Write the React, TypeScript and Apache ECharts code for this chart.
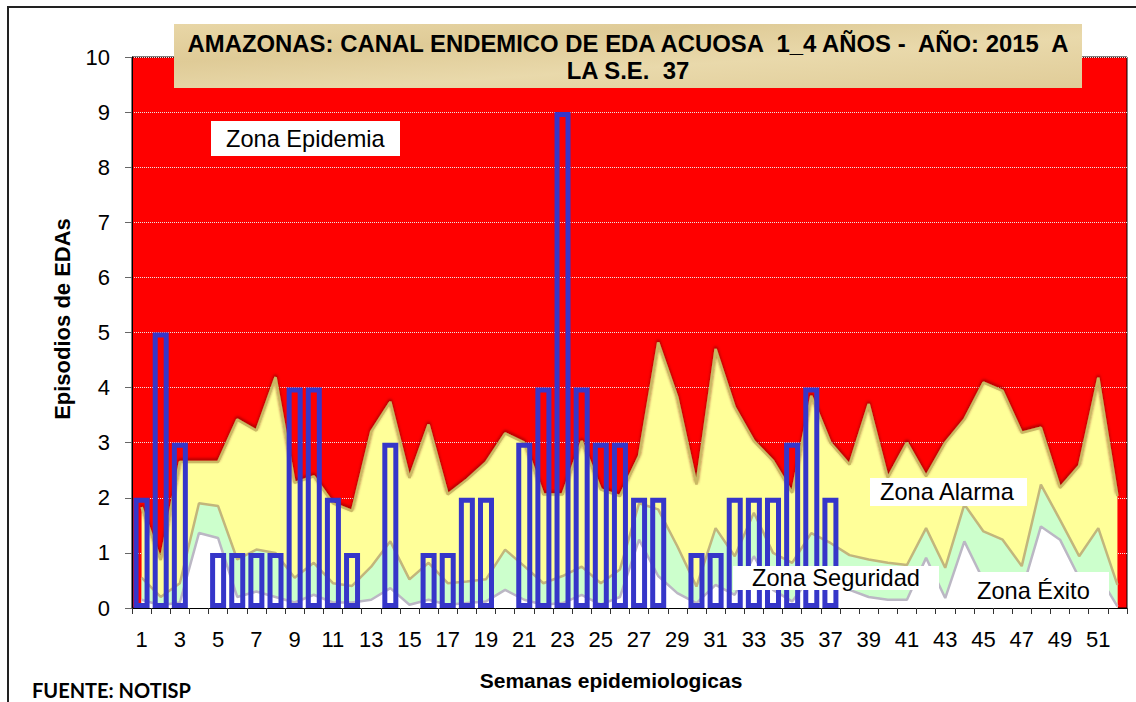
import React, { useEffect, useRef } from 'react';
import * as echarts from 'echarts';

const weeks = ['1','2','3','4','5','6','7','8','9','10','11','12','13','14','15','16','17','18','19','20','21','22','23','24','25','26','27','28','29','30','31','32','33','34','35','36','37','38','39','40','41','42','43','44','45','46','47','48','49','50','51','52'];

// upper limit of the alarm zone (above it: epidemic zone)
const alarmaTop = [1.83,0.87,2.65,2.65,2.65,3.42,3.22,4.19,2.27,2.39,1.9,1.76,3.2,3.74,2.36,3.33,2.06,2.33,2.64,3.17,3.0,2.06,2.06,3.03,2.15,2.03,2.76,4.82,3.82,2.24,4.7,3.64,3.03,2.67,2.09,3.85,3.0,2.6,3.7,2.36,3.0,2.39,3.0,3.42,4.09,3.94,3.18,3.27,2.18,2.58,4.18,2.03];
// upper limit of the security zone
const seguridadTop = [0.55,0.2,0.45,1.9,1.85,0.88,1.06,1.0,0.55,0.82,0.45,0.4,0.75,1.21,0.52,0.82,0.45,0.48,0.52,1.06,0.76,0.45,0.58,0.75,0.45,0.7,1.9,1.79,1.12,0.39,1.45,0.94,1.73,1.0,0.82,1.36,1.18,0.96,0.88,0.82,0.78,1.45,0.73,1.88,1.39,1.24,0.76,2.24,1.6,0.94,1.45,0.42];
// upper limit of the success zone
const exitoTop = [0.15,0.05,0.1,1.36,1.27,0.2,0.3,0.2,0.1,0.24,0.1,0.1,0.15,0.36,0.06,0.15,0.06,0.09,0.12,0.33,0.15,0.06,0.09,0.24,0.06,0.2,1.24,0.58,0.27,0.09,0.42,0.24,0.94,0.33,0.12,0.58,0.45,0.33,0.2,0.15,0.15,0.91,0.18,1.21,0.5,0.4,0.3,1.48,1.24,0.55,0.6,0.03];
// episodes 2015 up to S.E. 37
const casos2015 = [2,5,3,0,1,1,1,1,4,4,2,1,0,3,0,1,1,2,2,0,3,4,9,4,3,3,2,2,0,1,1,2,2,2,3,4,2];

const FONT = 'Liberation Sans, Arial, sans-serif';

export default function App() {
  const ref = useRef<HTMLDivElement>(null);
  useEffect(() => {
    if (!ref.current) return;
    const chart = echarts.init(ref.current, undefined, { renderer: 'svg' });

    const zoneLabel = (text: string, bx: number, by: number, bw: number, bh: number, tx: number, ty: number) => [
      { type: 'rect', z: 10, shape: { x: bx, y: by, width: bw, height: bh }, style: { fill: '#ffffff' } },
      { type: 'text', z: 11, x: tx, y: ty, style: { text, fill: '#000', fontSize: 23.6, fontFamily: FONT, align: 'left', verticalAlign: 'middle', textAlign: 'left', textVerticalAlign: 'middle' } },
    ];

    chart.setOption({
      animation: false,
      grid: { left: 132, right: 9, top: 57, bottom: 94, show: true, backgroundColor: '#ff0000', borderColor: '#000', borderWidth: 1 },
      xAxis: {
        type: 'category', data: weeks, boundaryGap: true,
        axisLine: { lineStyle: { color: '#000', width: 1 } },
        axisTick: { show: true, interval: 0, length: 6, lineStyle: { color: '#333' } },
        axisLabel: { interval: 1, fontSize: 22, fontFamily: FONT, color: '#000', margin: 20 },
        splitLine: { show: false },
      },
      yAxis: {
        type: 'value', min: 0, max: 10, interval: 1,
        axisLine: { show: true, lineStyle: { color: '#000', width: 1 } },
        axisTick: { show: true, length: 7, lineStyle: { color: '#666' } },
        axisLabel: { fontSize: 22, fontFamily: FONT, color: '#000', margin: 22 },
        splitLine: { show: true, lineStyle: { color: '#e8e8e8', type: 'dotted', width: 1 } },
      },
      series: [
        {
          name: 'Zona Alarma', type: 'line', data: alarmaTop, symbol: 'none', z: 2,
          lineStyle: { color: '#c9b864', width: 2.5, shadowColor: 'rgba(140,0,0,0.9)', shadowBlur: 3, shadowOffsetY: -2 },
          areaStyle: { color: '#ffff99', opacity: 1 },
        },
        {
          name: 'Zona Seguridad', type: 'line', data: seguridadTop, symbol: 'none', z: 2,
          lineStyle: { color: '#c2b67c', width: 2.5 },
          areaStyle: { color: '#ccffcc', opacity: 1 },
        },
        {
          name: 'Zona Éxito', type: 'line', data: exitoTop, symbol: 'none', z: 2,
          lineStyle: { color: '#bbb7c4', width: 2.5 },
          areaStyle: { color: '#ffffff', opacity: 1 },
        },
        {
          name: '2015', type: 'bar', barWidth: 16, z: 5,
          data: casos2015.map(v => v === 0 ? { value: 0, itemStyle: { borderWidth: 0 } } : v),
          itemStyle: { color: 'rgba(0,0,0,0)', borderColor: '#3636c9', borderWidth: 5 },
        },
      ],
      graphic: [
        { type: 'rect', z: 1, shape: { x: 8, y: 7, width: 1300, height: 900 }, style: { fill: 'none', stroke: '#222', lineWidth: 2 } },
        { type: 'rect', z: 20, shape: { x: 174, y: 24, width: 908, height: 64 },
          style: { fill: new echarts.graphic.LinearGradient(0, 0, 1, 1, [
            { offset: 0, color: '#e8d6a6' }, { offset: 0.3, color: '#dfcb97' }, { offset: 0.6, color: '#e9d9ab' }, { offset: 1, color: '#e0cc98' }]) } },
        { type: 'text', z: 21, x: 628, y: 57, style: { text: 'AMAZONAS: CANAL ENDEMICO DE EDA ACUOSA  1_4 AÑOS -  AÑO: 2015  A\nLA S.E.  37', fill: '#000', fontSize: 23.9, fontWeight: 'bold', fontFamily: FONT, lineHeight: 27, align: 'center', verticalAlign: 'middle', textAlign: 'center', textVerticalAlign: 'middle' } },
        ...zoneLabel('Zona Epidemia', 211, 121, 189, 35, 226, 139),
        ...zoneLabel('Zona Alarma', 870, 478, 157, 28, 880, 492),
        ...zoneLabel('Zona Seguridad', 733, 566, 206, 24, 752, 578),
        ...zoneLabel('Zona Éxito', 958, 572, 151, 36, 977, 591),
        { type: 'text', z: 21, x: 611, y: 680, style: { text: 'Semanas epidemiologicas', fill: '#000', fontSize: 21, fontWeight: 'bold', fontFamily: FONT, align: 'center', verticalAlign: 'middle', textAlign: 'center', textVerticalAlign: 'middle' } },
        { type: 'text', z: 21, x: 62, y: 319, rotation: Math.PI / 2, style: { text: 'Episodios de EDAs', fill: '#000', fontSize: 22, fontWeight: 'bold', fontFamily: FONT, align: 'center', verticalAlign: 'middle', textAlign: 'center', textVerticalAlign: 'middle' } },
        { type: 'text', z: 21, x: 32, y: 690, style: { text: 'FUENTE: NOTISP', fill: '#000', fontSize: 20, fontWeight: 'bold', fontFamily: 'Lato, sans-serif', align: 'left', verticalAlign: 'middle', textAlign: 'left', textVerticalAlign: 'middle' } },
      ],
    });
    return () => chart.dispose();
  }, []);
  return <div ref={ref} style={{ position: 'fixed', left: 0, top: 0, width: 1136, height: 702, background: '#fff' }} />;
}
